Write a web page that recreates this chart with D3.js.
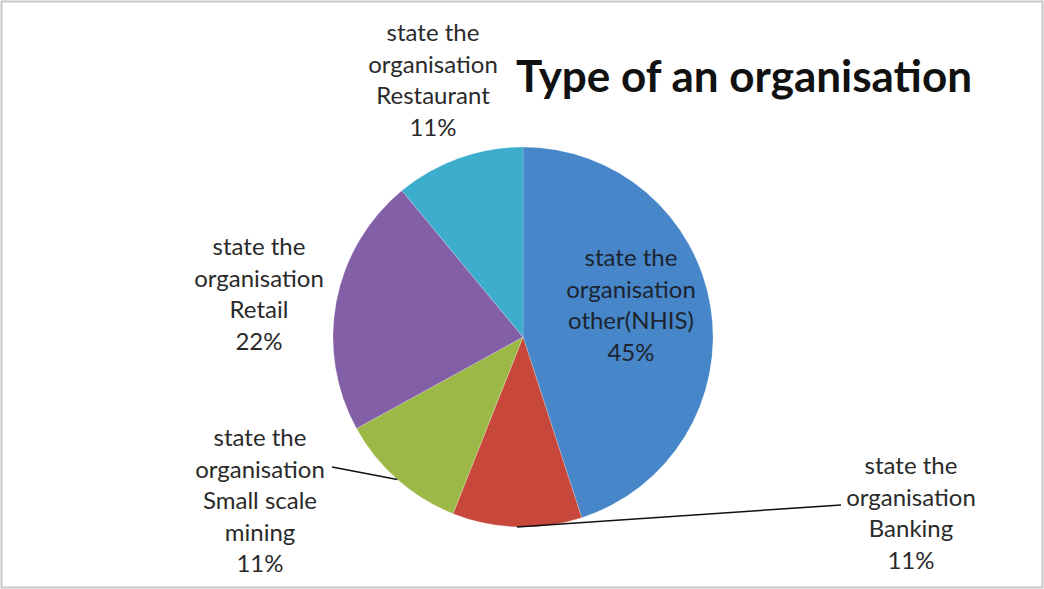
<!DOCTYPE html>
<html><head><meta charset="utf-8">
<script src="https://cdn.jsdelivr.net/npm/d3@7"></script>
<style>html,body{margin:0;padding:0;background:#fff;}svg{display:block;}</style>
</head><body>
<svg id="c" width="1044" height="589"></svg>
<script>
const title = "Type of an organisation";
const prefix = ["state the", "organisation"];
const categories = ["other(NHIS)", "Banking", "Small scale mining", "Retail", "Restaurant"];
const categoryLines = [["other(NHIS)"], ["Banking"], ["Small scale", "mining"], ["Retail"], ["Restaurant"]];
const values = [45, 11, 11, 22, 11];
const colors = ["#4B8DD3", "#D24B3E", "#A5C34C", "#8A64B0", "#40B6D8"];

const svg = d3.select("#c");
const W = 1044, H = 589;
const cx = 523, cy = 337, R = 190;

svg.append("rect").attr("x", 1.5).attr("y", 1.5).attr("width", W - 3).attr("height", H - 3)
  .attr("fill", "#fff").attr("stroke", "#c8c8c8").attr("stroke-width", 2);

const defs = svg.append("defs");
colors.forEach((c, i) => {
  const g = defs.append("radialGradient").attr("id", "g" + i)
    .attr("gradientUnits", "userSpaceOnUse").attr("cx", cx).attr("cy", cy - 60).attr("r", R * 1.5);
  g.append("stop").attr("offset", "0%").attr("stop-color", d3.color(c).brighter(0.1));
  g.append("stop").attr("offset", "100%").attr("stop-color", d3.color(c).darker(0.15));
});

const pie = d3.pie().sort(null).value(d => d)(values);
const arc = d3.arc().innerRadius(0).outerRadius(R);
const gp = svg.append("g").attr("transform", `translate(${cx},${cy})`);
gp.selectAll("path").data(pie).join("path")
  .attr("d", arc).attr("fill", (d, i) => `url(#g${i})`)
  .attr("stroke", "rgba(255,255,255,0.25)").attr("stroke-width", 0.8);

// label layout (anchor centers, first line baseline)
const layout = [
  {x: 631, y: 266, leader: false},
  {x: 911, y: 474, leader: true, lx: 841, ly: 505},
  {x: 260, y: 446, leader: true, lx: 332, ly: 467},
  {x: 259, y: 255, leader: false},
  {x: 433, y: 41, leader: false}
];
const lh = 31.5;
pie.forEach((d, i) => {
  const L = layout[i];
  const lines = prefix.concat(categoryLines[i]).concat([d3.format(".0%")(values[i] / 100)]);
  const t = svg.append("text").attr("text-anchor", "middle")
    .attr("font-family", "Lato, 'Open Sans', sans-serif").attr("font-size", 24)
    .attr("fill", i === 0 ? "#1c2430" : "#2a2a2a");
  lines.forEach((s, k) => t.append("tspan").attr("x", L.x).attr("y", L.y + k * lh).text(s));
  if (L.leader) {
    const a = (d.startAngle + d.endAngle) / 2;
    const px = cx + R * Math.sin(a), py = cy - R * Math.cos(a);
    svg.append("line").attr("x1", L.lx).attr("y1", L.ly).attr("x2", px).attr("y2", py)
      .attr("stroke", "#111").attr("stroke-width", 1.5);
  }
});

svg.append("text").attr("x", 744).attr("y", 92).attr("text-anchor", "middle")
  .attr("font-family", "Lato, 'Open Sans', sans-serif").attr("font-weight", "bold")
  .attr("font-size", 44).attr("fill", "#111").text(title);
</script>
</body></html>
